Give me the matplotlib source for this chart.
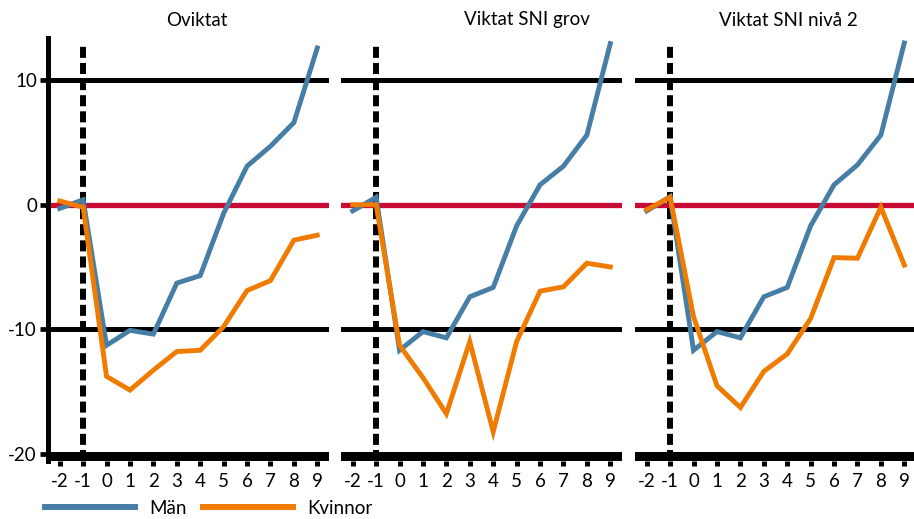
import matplotlib
matplotlib.use("Agg")
import matplotlib.pyplot as plt
from matplotlib.lines import Line2D

plt.rcParams['font.family'] = ['Lato', 'DejaVu Sans']

years = [-2, -1, 0, 1, 2, 3, 4, 5, 6, 7, 8, 9]
xtick_labels = ["-2", "-1", "0", "1", "2", "3", "4", "5", "6", "7", "8", "9"]
ytick_vals = [-20, -10, 0, 10]
ytick_labels = ["-20", "-10", "0", "10"]

titles = ["Oviktat", "Viktat SNI grov", "Viktat SNI nivå 2"]

man_oviktat = [-0.3, 0.4, -11.3, -10.1, -10.4, -6.3, -5.7, -0.7, 3.1, 4.7, 6.6, 12.6]
kv_oviktat = [0.3, -0.2, -13.8, -14.9, -13.3, -11.8, -11.7, -9.8, -6.9, -6.1, -2.85, -2.45]

man_grov = [-0.5, 0.6, -11.7, -10.2, -10.7, -7.4, -6.65, -1.7, 1.6, 3.1, 5.6, 12.95]
kv_grov = [0.0, 0.0, -11.3, -13.9, -16.8, -11.0, -18.25, -11.0, -6.95, -6.6, -4.7, -5.0]

man_niva2 = [-0.5, 0.65, -11.7, -10.2, -10.7, -7.4, -6.65, -1.7, 1.6, 3.2, 5.6, 13.0]
kv_niva2 = [-0.4, 0.6, -9.0, -14.55, -16.3, -13.4, -12.0, -9.15, -4.25, -4.3, -0.2, -4.85]

man_series = [man_oviktat, man_grov, man_niva2]
kv_series = [kv_oviktat, kv_grov, kv_niva2]

BLUE = "#467ea5"
ORANGE = "#ef7b00"
RED = "#c60c34"

W, H = 914, 519
fig = plt.figure(figsize=(W / 100, H / 100), dpi=100)

lefts = [48, 341, 635]
ax_w = 281
ax_bottom = 461
ax_top = 38
title_pos = [0.53, 0.66, 0.545]
FS = 13.5

for i in range(3):
    ax = fig.add_axes([lefts[i] / W, (H - ax_bottom) / H, ax_w / W, (ax_bottom - ax_top) / H])
    ax.set_xlim(-2.5, 9.5)
    ax.set_ylim(-20.6, 13.4)
    for s in ["top", "right", "bottom"]:
        ax.spines[s].set_visible(False)
    if i == 0:
        ax.spines["left"].set_linewidth(3.6)
        ax.set_yticks(ytick_vals)
        ax.set_yticklabels(ytick_labels)
        ax.tick_params(axis="y", direction="out", length=5.5, width=3.4, pad=2.5, labelsize=FS)
    else:
        ax.spines["left"].set_visible(False)
        ax.set_yticks([])
    ax.set_xticks(years)
    ax.set_xticklabels(xtick_labels)
    ax.tick_params(axis="x", direction="out", length=3.8, width=3.6, pad=4.5, labelsize=FS)

    # gridlines
    ax.axhline(10, color="black", lw=3.6, zorder=1)
    ax.axhline(-10, color="black", lw=3.6, zorder=1)
    ax.axhline(0, color=RED, lw=3.8, zorder=1)
    ax.axhspan(-20.6, -19.86, color="black", lw=0, zorder=1)
    ax.axvline(-1, ymax=0.985, color="black", lw=4.3, dashes=(1.85, 0.85), zorder=2)

    ax.plot(years, man_series[i], color=BLUE, lw=3.5, zorder=3, solid_joinstyle="miter")
    ax.plot(years, kv_series[i], color=ORANGE, lw=3.5, zorder=4, solid_joinstyle="miter")

    ax.text(title_pos[i], 1.0 + 18 / (ax_bottom - ax_top), titles[i], transform=ax.transAxes,
            ha="center", va="center", fontsize=FS)

handles = [Line2D([], [], color=BLUE, lw=4.3), Line2D([], [], color=ORANGE, lw=4.3)]
fig.legend(handles, ["Män", "Kvinnor"], loc="center left", bbox_to_anchor=(45 / W, (H - 508) / H),
           ncol=2, frameon=False, fontsize=FS, handlelength=4.8, handletextpad=0.75,
           columnspacing=0.9, borderpad=0, borderaxespad=0)

fig.savefig("out.png", dpi=100)
